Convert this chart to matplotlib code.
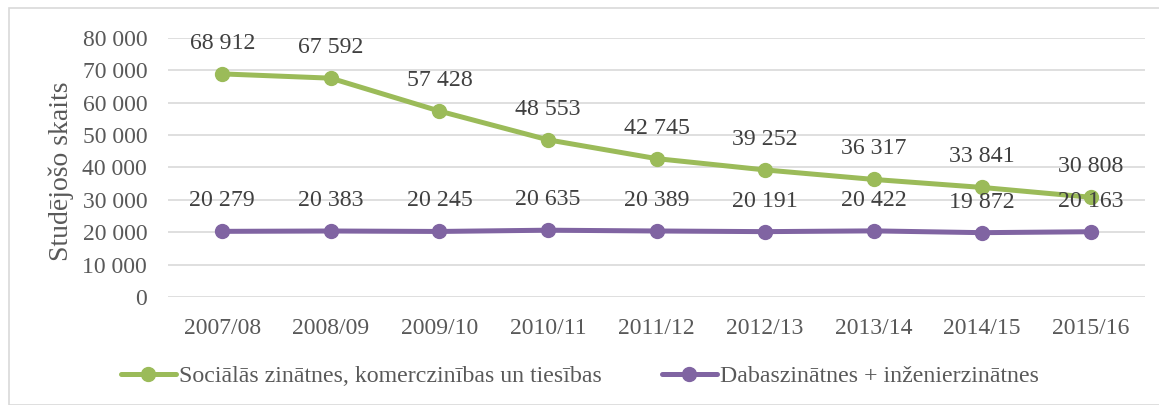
import matplotlib
matplotlib.use("Agg")
import matplotlib.pyplot as plt
from matplotlib.patches import Rectangle

categories = ["2007/08", "2008/09", "2009/10", "2010/11", "2011/12",
              "2012/13", "2013/14", "2014/15", "2015/16"]
social = [68912, 67592, 57428, 48553, 42745, 39252, 36317, 33841, 30808]
natural = [20279, 20383, 20245, 20635, 20389, 20191, 20422, 19872, 20163]
series_names = ["Sociālās zinātnes, komerczinības un tiesības",
                "Dabaszinātnes + inženierzinātnes"]
yticks = list(range(0, 80001, 10000))

plt.rcParams['font.family'] = ['Liberation Serif', 'DejaVu Serif']

W, H = 1159, 405
fig = plt.figure(figsize=(W / 100, H / 100), dpi=100)
fig.patches.append(Rectangle((9 / W, 0), 1.2, (H - 8) / H, transform=fig.transFigure,
                             fill=False, edgecolor='#D9D9D9', linewidth=1.2))

ax = fig.add_axes([168 / W, 108 / H, (1145 - 168) / W, (367 - 108) / H])
x = list(range(len(categories)))
green = '#9BBB59'
purple = '#8064A2'
ax.plot(x, social, color=green, lw=3.6, marker='o', ms=10, label=series_names[0],
        solid_capstyle='round', zorder=3)
ax.plot(x, natural, color=purple, lw=3.6, marker='o', ms=10, label=series_names[1],
        solid_capstyle='round', zorder=3)

for xi, v in zip(x, social):
    ax.annotate(f"{v:,}".replace(",", " "), (xi, v), xytext=(0, 22), textcoords='offset points',
                ha='center', va='center', fontsize=17.2, color='#404040', zorder=4)
for xi, v in zip(x, natural):
    ax.annotate(f"{v:,}".replace(",", " "), (xi, v), xytext=(0, 22), textcoords='offset points',
                ha='center', va='center', fontsize=17.2, color='#404040', zorder=4)

ax.set_xlim(-0.5, len(categories) - 0.5)
ax.set_ylim(0, 80000)
ax.set_yticks(yticks)
ax.set_yticklabels([f"{t:,}".replace(",", " ") for t in yticks])
ax.set_xticks(x)
ax.set_xticklabels(categories)
ax.tick_params(axis='both', length=0, labelsize=17, colors='#595959')
ax.tick_params(axis='y', pad=15)
ax.tick_params(axis='x', pad=15)
ax.grid(axis='y', color='#D9D9D9', lw=1.2)
ax.set_axisbelow(True)
for s in ax.spines.values():
    s.set_visible(False)

fig.text(61 / W, 1 - 171 / H, "Studējošo skaits", rotation=90, ha='center', va='center',
         fontsize=20, color='#595959')

leg = fig.legend(loc='center', bbox_to_anchor=(580 / W, 1 - 376 / H), ncol=2, frameon=False,
                 fontsize=17.2, handlelength=2.3, handletextpad=0.15, columnspacing=2.5)
for t in leg.get_texts():
    t.set_color('#595959')

fig.savefig("out.png", dpi=100)
